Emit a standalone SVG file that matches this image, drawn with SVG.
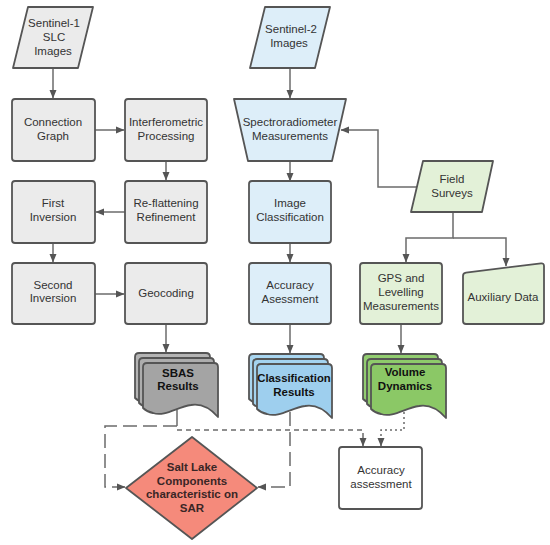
<svg xmlns="http://www.w3.org/2000/svg" width="550" height="545" viewBox="0 0 550 545">
<style>
text{font-family:"Liberation Sans",Arial,sans-serif;font-size:11.5px;fill:#333;text-anchor:middle}
.b{font-weight:bold;fill:#111}
.d{font-weight:bold;fill:#3a2626}
.n{stroke:#555;stroke-width:1.8;stroke-linejoin:round}
.g{fill:#ebebeb}
.bl{fill:#ddeef9}
.gr{fill:#e3f1d8}
.c{fill:none;stroke:#6b6b6b;stroke-width:1.5}
.ld{stroke-dasharray:14,6}
.sd{stroke-dasharray:5,4}
.dt{stroke-dasharray:2,3}
</style>
<defs>
<marker id="a" markerWidth="9" markerHeight="8" refX="8" refY="4" orient="auto" markerUnits="userSpaceOnUse"><path d="M0,0.5 L8.5,4 L0,7.5 z" fill="#555"/></marker>
<path id="doc" d="M0,4 Q0,0 4,0 H71 Q75,0 75,4 V54 C68,46 60,40 48,42 C34,44 22,54 10,50 C5,49 2,47 0,45 Z"/>
</defs>
<rect width="550" height="545" fill="#fff"/>

<g id="connectors">
<path class="c" d="M53,68 V98" marker-end="url(#a)"/>
<path class="c" d="M95,130 H124" marker-end="url(#a)"/>
<path class="c" d="M166,161 V180" marker-end="url(#a)"/>
<path class="c" d="M125,212 H96" marker-end="url(#a)"/>
<path class="c" d="M53,243 V262" marker-end="url(#a)"/>
<path class="c" d="M95,294 H124" marker-end="url(#a)"/>
<path class="c" d="M166,324 V352" marker-end="url(#a)"/>
<path class="c" d="M290,68 V98" marker-end="url(#a)"/>
<path class="c" d="M290,161 V181" marker-end="url(#a)"/>
<path class="c" d="M290,243 V262" marker-end="url(#a)"/>
<path class="c" d="M290,324 V353" marker-end="url(#a)"/>
<path class="c" d="M417,187 H378 V130 H341" marker-end="url(#a)"/>
<path class="c" d="M453,212 V238 H406 V262" marker-end="url(#a)"/>
<path class="c" d="M453,238 H506 V266" marker-end="url(#a)"/>
<path class="c" d="M401,324 V353" marker-end="url(#a)"/>
<path class="c" d="M177,410 V426"/>
<path class="c ld" d="M177,426 H105 V487 H125" marker-end="url(#a)"/>
<path class="c sd" d="M177,430 H363 V446" marker-end="url(#a)"/>
<path class="c ld" d="M290,412 V487 H258" marker-end="url(#a)"/>
<path class="c dt" d="M404,412 V430 H381 V446" marker-end="url(#a)"/>
</g>

<g id="sentinel1">
<path class="n g" d="M28,7 H93 L78,68 H13 Z"/>
<text x="54" y="27">Sentinel-1</text>
<text x="54" y="41">SLC</text>
<text x="53" y="55">Images</text>
</g>
<g id="connection-graph">
<rect class="n g" x="12" y="99" width="83" height="62" rx="3"/>
<text x="53" y="126">Connection</text>
<text x="53" y="140">Graph</text>
</g>
<g id="interferometric">
<rect class="n g" x="125" y="99" width="82" height="62" rx="3"/>
<text x="166" y="126">Interferometric</text>
<text x="166" y="140">Processing</text>
</g>
<g id="first-inversion">
<rect class="n g" x="12" y="181" width="83" height="62" rx="3"/>
<text x="53" y="207">First</text>
<text x="53" y="221">Inversion</text>
</g>
<g id="reflattening">
<rect class="n g" x="125" y="181" width="82" height="62" rx="3"/>
<text x="166" y="207">Re-flattening</text>
<text x="166" y="221">Refinement</text>
</g>
<g id="second-inversion">
<rect class="n g" x="12" y="263" width="83" height="61" rx="3"/>
<text x="53" y="289">Second</text>
<text x="53" y="302">Inversion</text>
</g>
<g id="geocoding">
<rect class="n g" x="125" y="263" width="82" height="61" rx="3"/>
<text x="166" y="297">Geocoding</text>
</g>
<g id="sbas-results">
<use href="#doc" x="135" y="353" class="n" fill="#b4b4b4"/>
<use href="#doc" x="139" y="358" class="n" fill="#adadad"/>
<use href="#doc" x="143" y="363" class="n" fill="#a4a4a4"/>
<text class="b" x="178" y="377">SBAS</text>
<text class="b" x="178" y="390">Results</text>
</g>

<g id="sentinel2">
<path class="n bl" d="M265,7 H330 L315,68 H250 Z"/>
<text x="291" y="33">Sentinel-2</text>
<text x="289" y="47">Images</text>
</g>
<g id="spectroradiometer">
<path class="n bl" d="M234,99 H346 L332,161 H248 Z"/>
<text x="290" y="126">Spectroradiometer</text>
<text x="290" y="140">Measurements</text>
</g>
<g id="image-classification">
<rect class="n bl" x="249" y="181" width="82" height="62" rx="3"/>
<text x="290" y="207">Image</text>
<text x="290" y="221">Classification</text>
</g>
<g id="accuracy-asessment">
<rect class="n bl" x="249" y="263" width="82" height="61" rx="3"/>
<text x="290" y="289">Accuracy</text>
<text x="290" y="303">Asessment</text>
</g>
<g id="classification-results">
<use href="#doc" x="249" y="354" class="n" fill="#a9d6f0"/>
<use href="#doc" x="253" y="359" class="n" fill="#a4d3ef"/>
<use href="#doc" x="257" y="364" class="n" fill="#9ecfee"/>
<text class="b" x="294" y="382" style="font-size:11.3px">Classification</text>
<text class="b" x="294" y="396">Results</text>
</g>

<g id="field-surveys">
<path class="n gr" d="M423,161 H493 L482,212 H411 Z"/>
<text x="452" y="183">Field</text>
<text x="452" y="197">Surveys</text>
</g>
<g id="gps-levelling">
<rect class="n gr" x="360" y="263" width="82" height="61" rx="3"/>
<text x="401" y="282">GPS and</text>
<text x="401" y="296">Levelling</text>
<text x="401" y="310">Measurements</text>
</g>
<g id="auxiliary-data">
<path class="n gr" d="M463,276 Q463,273 466,272.6 L541,263.4 Q544,263 544,266 V321 Q544,324 541,324 H466 Q463,324 463,321 Z"/>
<text x="503" y="301">Auxiliary Data</text>
</g>
<g id="volume-dynamics">
<use href="#doc" x="363" y="354" class="n" fill="#92cd70"/>
<use href="#doc" x="367" y="359" class="n" fill="#8eca6b"/>
<use href="#doc" x="371" y="364" class="n" fill="#8bc866"/>
<text class="b" x="405" y="376">Volume</text>
<text class="b" x="405" y="390">Dynamics</text>
</g>

<g id="salt-lake">
<path class="n" fill="#f58a7b" d="M192,437 L257,488 L192,539 L126,488 Z"/>
<text class="d" x="192" y="471">Salt Lake</text>
<text class="d" x="192" y="485">Components</text>
<text class="d" x="192" y="498">characteristic on</text>
<text class="d" x="192" y="512">SAR</text>
</g>
<g id="accuracy-assessment">
<rect class="n" fill="#fff" x="339" y="447" width="83" height="62" rx="3"/>
<text x="381" y="474">Accuracy</text>
<text x="381" y="488">assessment</text>
</g>
</svg>
